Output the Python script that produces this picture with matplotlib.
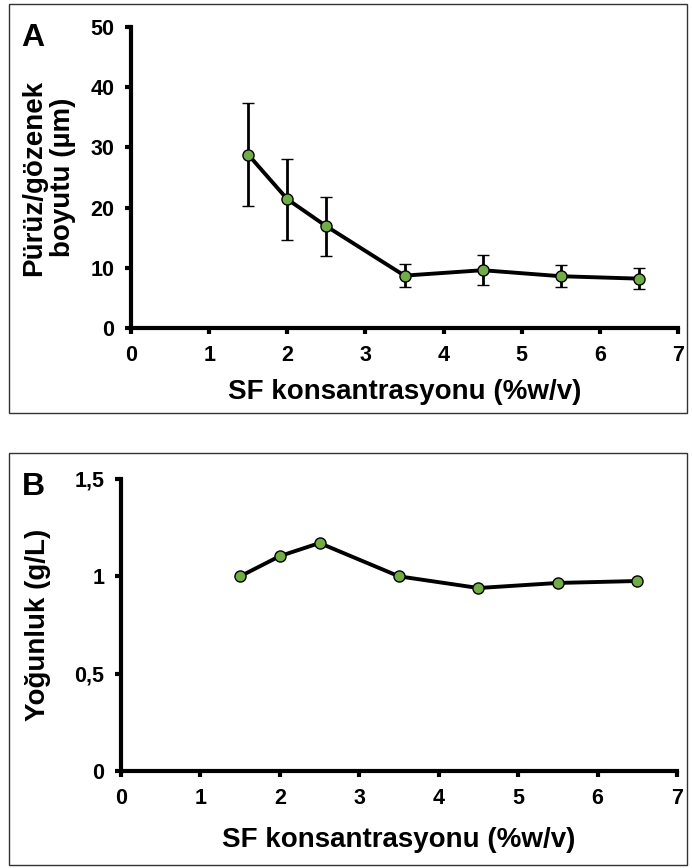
import numpy as np
import matplotlib.pyplot as plt
from matplotlib.patches import Rectangle

plt.rcParams['font.family'] = ['Liberation Sans', 'DejaVu Sans']
plt.rcParams['font.weight'] = 'bold'

# data
sf = [1.5, 2.0, 2.5, 3.5, 4.5, 5.5, 6.5]
pore = [28.8, 21.4, 16.9, 8.7, 9.6, 8.6, 8.2]
pore_err = [8.6, 6.7, 4.9, 1.9, 2.5, 1.8, 1.7]
density = [1.0, 1.104, 1.171, 1.0, 0.94, 0.966, 0.976]

W, H = 692, 868
fig = plt.figure(figsize=(W / 100, H / 100), dpi=100)

green = '#70AD47'
LABEL_FS = 20
TICK_FS = 15.5


def px(l, t, r, b):
    return [l / W, (H - b) / H, (r - l) / W, (b - t) / H]


def style(ax):
    for s in ['top', 'right']:
        ax.spines[s].set_visible(False)
    for s in ['left', 'bottom']:
        ax.spines[s].set_linewidth(3)
    ax.tick_params(direction='out', length=4, width=3, labelsize=TICK_FS, pad=8)
    ax.set_xlim(0, 7)
    ax.set_xticks(range(8))
    for lab in ax.get_xticklabels() + ax.get_yticklabels():
        lab.set_fontweight('bold')


# panel A
axA = fig.add_axes(px(131, 27, 678, 328))
axA.errorbar(sf, pore, yerr=pore_err, color='black', lw=2.8, ecolor='black',
             elinewidth=2, capsize=4, capthick=2, marker='o', ms=8,
             mfc=green, mec='black', mew=1, zorder=3)
axA.set_ylim(0, 50)
axA.set_yticks(range(0, 51, 10))
style(axA)
axA.set_xlabel('SF konsantrasyonu (%w/v)', fontsize=LABEL_FS, fontweight='bold')
axA.xaxis.set_label_coords(0.5, -(392 - 328) / 301)
axA.xaxis.label.set_va('center')
axA.set_ylabel('Pürüz/gözenek\nboyutu (µm)', fontsize=LABEL_FS, fontweight='bold',
               linespacing=1.15)
axA.yaxis.set_label_coords(-(131 - 49) / 547, 0.5)
axA.yaxis.label.set_va('center')

# panel B
axB = fig.add_axes(px(121, 479, 677, 771))
axB.plot(sf, density, color='black', lw=2.8, marker='o', ms=8,
         mfc=green, mec='black', mew=1, zorder=3)
axB.set_ylim(0, 1.5)
axB.set_yticks([0, 0.5, 1, 1.5])
axB.set_yticklabels(['0', '0,5', '1', '1,5'])
style(axB)
axB.set_xlabel('SF konsantrasyonu (%w/v)', fontsize=LABEL_FS, fontweight='bold')
axB.xaxis.set_label_coords(0.5, -(840 - 771) / 292)
axB.xaxis.label.set_va('center')
axB.set_ylabel('Yoğunluk (g/L)', fontsize=LABEL_FS, fontweight='bold')
axB.yaxis.set_label_coords(-(121 - 38) / 556, 0.5)
axB.yaxis.label.set_va('center')

# panel letters
fig.text(33 / W, 1 - 38 / H, 'A', fontsize=23, fontweight='bold', ha='center', va='center')
fig.text(33 / W, 1 - 487 / H, 'B', fontsize=23, fontweight='bold', ha='center', va='center')

# panel frames
for t, b in [(4, 413), (453, 865)]:
    fig.patches.append(Rectangle((9 / W, 1 - b / H), (687 - 9) / W, (b - t) / H,
                                 transform=fig.transFigure, fill=False,
                                 edgecolor='#333333', lw=1))

fig.savefig('out.png', dpi=100)
